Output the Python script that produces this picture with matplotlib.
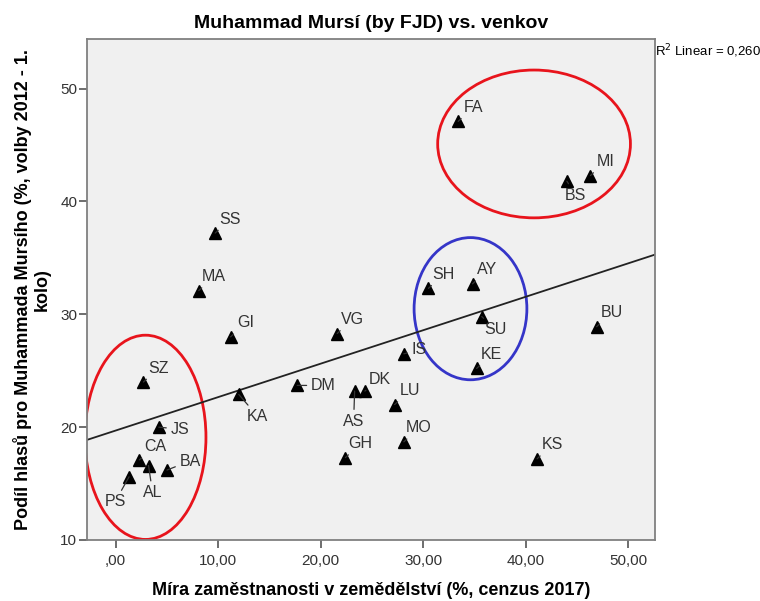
import numpy as np
import matplotlib.pyplot as plt
from matplotlib.patches import Ellipse
from matplotlib.ticker import FuncFormatter

plt.rcParams['font.family'] = ['Liberation Sans', 'DejaVu Sans']

# districts: abbreviation, agriculture employment (%), Mursi vote share (%)
codes = ["SS", "MA", "GI", "VG", "SZ", "KA", "DM", "AS", "DK", "JS", "CA", "AL",
         "BA", "PS", "GH", "SH", "AY", "SU", "BU", "IS", "KE", "LU", "MO", "KS",
         "FA", "BS", "MI"]
agri = [9.7, 8.1, 11.2, 21.6, 2.7, 12.0, 17.7, 23.3, 24.3, 4.2, 2.3, 3.2,
        5.0, 1.3, 22.4, 30.5, 34.8, 35.7, 46.9, 28.1, 35.2, 27.2, 28.1, 41.1,
        33.4, 44.0, 46.3]
mursi = [37.2, 32.1, 28.0, 28.3, 24.0, 22.9, 23.7, 23.2, 23.2, 20.0, 17.1, 16.6,
         16.2, 15.6, 17.3, 32.3, 32.7, 29.8, 28.9, 26.5, 25.2, 22.0, 18.7, 17.2,
         47.1, 41.8, 42.3]

# label offsets in pixels (dx, dy); leader line drawn for the longer ones
offsets = {"KA": (19, -22), "DM": (26, 0), "AS": (-1, -30), "JS": (21, -2),
           "AL": (4, -27), "BA": (23, 9), "PS": (-14, -25), "IS": (15, 4),
           "SU": (14, -13), "BS": (9, -14), "DK": (15, 12), "CA": (16, 13)}
default_off = (15, 14)

fig = plt.figure(figsize=(7.6, 6.01), dpi=100)
ax = fig.add_axes([0.1145, 0.1015, 0.7474, 0.8336])
ax.set_facecolor("#f0f0f0")

ax.set_xlim(-2.8, 52.6)
ax.set_ylim(10, 54.4)

# regression line
slope, icpt = np.polyfit(agri, mursi, 1)
xs = np.array(ax.get_xlim())
ax.plot(xs, icpt + slope * xs, color="#222222", lw=1.3, zorder=2)
pred = icpt + slope * np.array(agri)
r2 = 1 - np.sum((np.array(mursi) - pred) ** 2) / np.sum((np.array(mursi) - np.mean(mursi)) ** 2)

ax.plot(agri, mursi, linestyle="none", marker="^", color="black", markersize=8.5, zorder=3)

for c, x, y in zip(codes, agri, mursi):
    dx, dy = offsets.get(c, default_off)
    ax.annotate(c, (x, y), xytext=(dx, dy), textcoords="offset pixels",
                ha="center", va="center", fontsize=11.5, color="#333333",
                arrowprops=dict(arrowstyle="-", color="#333333", lw=0.9,
                                shrinkA=1, shrinkB=0), zorder=4)

# highlighted groups
ax.add_patch(Ellipse((2.9, 19.1), 11.8, 18.1, fill=False, edgecolor="#e8141c", lw=2))
ax.add_patch(Ellipse((34.6, 30.5), 11.0, 12.6, fill=False, edgecolor="#3535c8", lw=2))
ax.add_patch(Ellipse((40.8, 45.1), 18.8, 13.1, fill=False, edgecolor="#e8141c", lw=2))

ax.set_xticks([0, 10, 20, 30, 40, 50])
ax.set_yticks([10, 20, 30, 40, 50])
ax.xaxis.set_major_formatter(FuncFormatter(lambda v, p: f"{v:.2f}".replace(".", ",").lstrip("0") if v == 0 else f"{v:.2f}".replace(".", ",")))
ax.tick_params(direction="out", length=6, width=1.2, color="#555555",
               labelsize=11, labelcolor="#333333", top=False, right=False)
ax.tick_params(axis="y", pad=1)
ax.tick_params(axis="x", pad=4)
for s in ax.spines.values():
    s.set_color("#808080")
    s.set_linewidth(1.3)

ax.set_title("Muhammad Mursí (by FJD) vs. venkov", fontsize=14, fontweight="bold", pad=8)
ax.set_xlabel("Míra zaměstnanosti v zemědělství (%, cenzus 2017)", fontsize=13,
              fontweight="bold", labelpad=10)
ax.set_ylabel("Podíl hlasů pro Muhammada Mursího (%, volby 2012 - 1.\nkolo)", fontsize=13,
              fontweight="bold", labelpad=7, linespacing=1.15)

fig.text(0.862, 0.914, f"R$^2$ Linear = {r2:.3f}".replace(".", ","), fontsize=9.5,
         ha="left", va="center")

fig.savefig("out.png", dpi=100)
